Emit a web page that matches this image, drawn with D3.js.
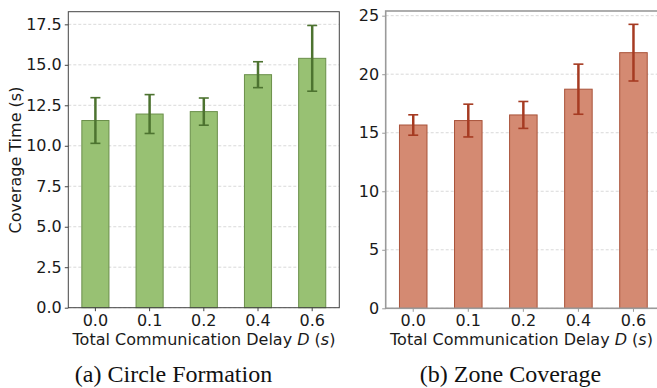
<!DOCTYPE html>
<html>
<head>
<meta charset="utf-8">
<script src="https://cdn.jsdelivr.net/npm/d3@7"></script>
<style>
body { margin: 0; background: #fff; }
svg { display: block; }
</style>
</head>
<body>
<svg width="657" height="388"></svg>
<script>
// delays on x axis
var delays = ["0.0", "0.1", "0.2", "0.4", "0.6"];

// (a) circle formation
var circleMean = [11.56, 11.96, 12.11, 14.39, 15.40];
var circleErr  = [1.41, 1.20, 0.84, 0.80, 2.03];
var circleTicks = [0, 2.5, 5, 7.5, 10, 12.5, 15, 17.5];

// (b) zone coverage
var zoneMean = [15.66, 16.04, 16.52, 18.72, 21.84];
var zoneErr  = [0.87, 1.40, 1.15, 2.14, 2.42];
var zoneTicks = [0, 5, 10, 15, 20, 25];

var svg = d3.select("svg");
var FS = 16;

function drawPanel(opt){
    var g = svg.append("g");
    var x = d3.scaleBand().domain(delays)
        .range([opt.left, opt.right]).paddingInner(0.5).paddingOuter(0.25);
    var y = d3.scaleLinear().domain([0, opt.ymax]).range([opt.bottom, opt.top]);

    // grid
    g.selectAll("line.grid").data(opt.ticks).enter().append("line")
        .attr("x1", opt.left).attr("x2", opt.right)
        .attr("y1", d=>y(d)).attr("y2", d=>y(d))
        .attr("stroke", "#cfcfcf").attr("stroke-width", 0.8)
        .attr("stroke-dasharray", "3,2");

    // bars
    g.selectAll("rect.bar").data(opt.mean).enter().append("rect")
        .attr("x", (d,i)=>x(delays[i]))
        .attr("width", x.bandwidth())
        .attr("y", d=>y(d))
        .attr("height", d=>opt.bottom - y(d))
        .attr("fill", opt.fill)
        .attr("stroke", opt.edge).attr("stroke-width", 1);

    // error bars
    var eb = g.selectAll("g.err").data(opt.mean).enter().append("g");
    eb.append("line")
        .attr("x1", (d,i)=>x(delays[i]) + x.bandwidth()/2)
        .attr("x2", (d,i)=>x(delays[i]) + x.bandwidth()/2)
        .attr("y1", (d,i)=>y(d - opt.err[i]))
        .attr("y2", (d,i)=>y(d + opt.err[i]))
        .attr("stroke", opt.ecolor).attr("stroke-width", 2.5);
    [-1, 1].forEach(function(s){
        eb.append("line")
            .attr("x1", (d,i)=>x(delays[i]) + x.bandwidth()/2 - 5)
            .attr("x2", (d,i)=>x(delays[i]) + x.bandwidth()/2 + 5)
            .attr("y1", (d,i)=>y(d + s*opt.err[i]))
            .attr("y2", (d,i)=>y(d + s*opt.err[i]))
            .attr("stroke", opt.ecolor).attr("stroke-width", 1.6);
    });

    // spines
    g.append("rect").attr("fill", "none")
        .attr("stroke", opt.spine).attr("stroke-width", opt.spineW)
        .attr("x", opt.left).attr("y", opt.top)
        .attr("width", opt.right - opt.left).attr("height", opt.bottom - opt.top);

    // axes
    var ya = g.append("g").attr("transform", "translate(" + opt.left + ",0)")
        .call(d3.axisLeft(y).tickValues(opt.ticks).tickFormat(opt.fmt).tickSize(3.5).tickPadding(3));
    var xa = g.append("g").attr("transform", "translate(0," + opt.bottom + ")")
        .call(d3.axisBottom(x).tickSize(3.5).tickPadding(3));
    [ya, xa].forEach(function(a){
        a.select(".domain").remove();
        a.selectAll(".tick line").attr("stroke", opt.spine);
        a.selectAll("text").attr("font-family", "DejaVu Sans").attr("font-size", FS).attr("fill", "#1a1a1a");
    });

    // x label
    var xl = g.append("text")
        .attr("x", opt.xlabX).attr("y", opt.bottom + 37)
        .attr("text-anchor", "middle")
        .attr("font-family", "DejaVu Sans").attr("font-size", FS).attr("fill", "#1a1a1a");
    xl.append("tspan").text("Total Communication Delay ");
    xl.append("tspan").attr("font-style", "italic").text("D");
    xl.append("tspan").text(" (");
    xl.append("tspan").attr("font-style", "italic").text("s");
    xl.append("tspan").text(")");

    // caption
    g.append("text")
        .attr("x", opt.capX).attr("y", 382)
        .attr("text-anchor", "middle")
        .attr("font-family", "Liberation Serif").attr("font-size", 24).attr("fill", "#111")
        .text(opt.caption);
    return g;
}

drawPanel({
    left: 68.3, right: 339.3, top: 11.7, bottom: 307.7, ymax: 18.28,
    mean: circleMean, err: circleErr, ticks: circleTicks,
    fmt: d3.format(".1f"),
    fill: "#98c173", edge: "#6a8f4a", ecolor: "#4d7330",
    spine: "#444", spineW: 1,
    xlabX: 204, capX: 173.5, caption: "(a) Circle Formation"
});

drawPanel({
    left: 385.7, right: 661, top: 11, bottom: 308.3, ymax: 25.4,
    mean: zoneMean, err: zoneErr, ticks: zoneTicks,
    fmt: d3.format("d"),
    fill: "#d48a72", edge: "#a9533a", ecolor: "#a63b22",
    spine: "#9a9a9a", spineW: 1.6,
    xlabX: 521.5, capX: 510.5, caption: "(b) Zone Coverage"
});

// y label of left panel
svg.append("text")
    .attr("transform", "translate(21,160) rotate(-90)")
    .attr("text-anchor", "middle")
    .attr("font-family", "DejaVu Sans").attr("font-size", FS).attr("fill", "#1a1a1a")
    .text("Coverage Time (s)");
</script>
</body>
</html>
